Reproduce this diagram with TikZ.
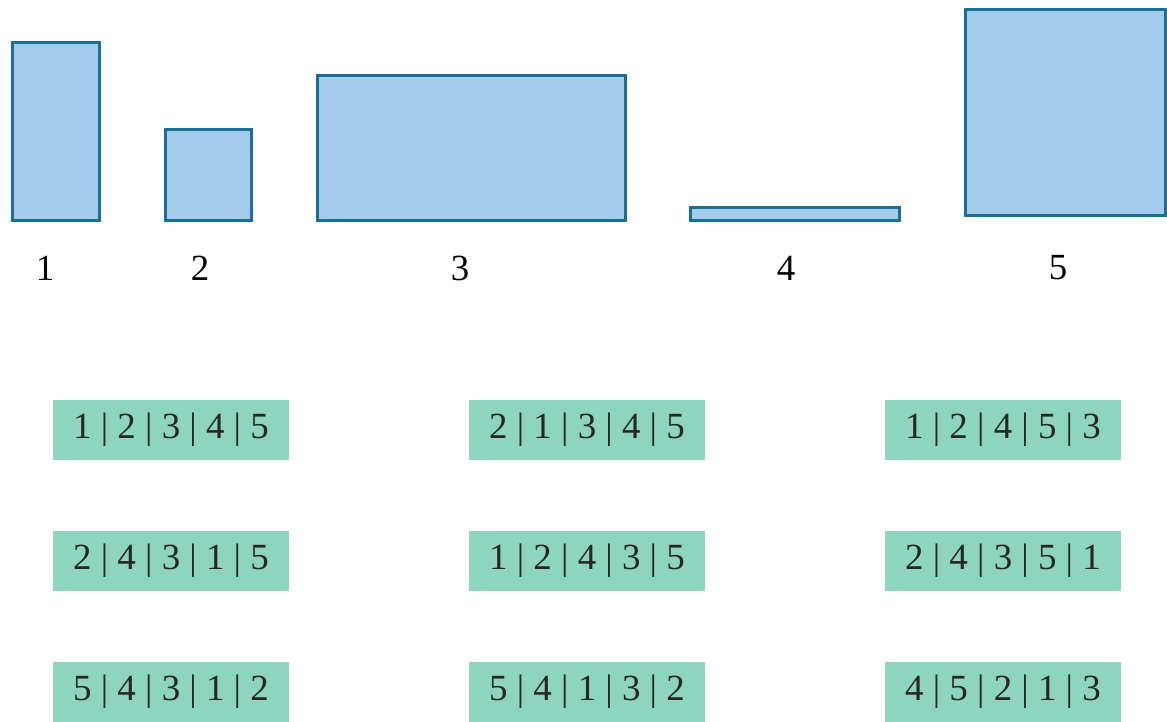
\documentclass[tikz,border=0pt]{standalone}
\usepackage{fontspec}
\setmainfont{Liberation Serif}
\usetikzlibrary{positioning}
\definecolor{barfill}{RGB}{163,204,236}
\definecolor{barline}{RGB}{28,112,150}
\definecolor{permfill}{RGB}{141,213,190}

\begin{document}
\begin{tikzpicture}[x=0.02cm, y=-0.02cm,
  barbox/.style={draw=barline, fill=barfill, line width=1.8pt,
                 anchor=south west, inner sep=0pt},
  permbox/.style={fill=permfill, minimum width=4.72cm, minimum height=1.22cm,
                  font=\fontsize{21}{24}\selectfont, text=black!85},
  barlabel/.style={font=\fontsize{21}{24}\selectfont}]
  \useasboundingbox (0,0) rectangle (1167,722);

  % Draw the five items
  \node[barbox, minimum width=1.74cm, minimum height=3.56cm] (bar1) at (11,222) {};
  \node[barbox, minimum width=1.72cm, minimum height=1.82cm] (bar2) at (164,222) {};
  \node[barbox, minimum width=6.16cm, minimum height=2.9cm]  (bar3) at (316,222) {};
  \node[barbox, minimum width=4.18cm, minimum height=0.26cm] (bar4) at (689,222) {};
  \node[barbox, minimum width=4.0cm,  minimum height=4.12cm] (bar5) at (964,217) {};

  % Item numbers
  \foreach \n/\x in {1/45, 2/200, 3/460, 4/786, 5/1058} {
    \node[barlabel] (lab\n) at (\x,268) {\n};
  }

  % Orderings
  \foreach \perm [count=\k from 0] in {
      {1 | 2 | 3 | 4 | 5}, {2 | 1 | 3 | 4 | 5}, {1 | 2 | 4 | 5 | 3},
      {2 | 4 | 3 | 1 | 5}, {1 | 2 | 4 | 3 | 5}, {2 | 4 | 3 | 5 | 1},
      {5 | 4 | 3 | 1 | 2}, {5 | 4 | 1 | 3 | 2}, {4 | 5 | 2 | 1 | 3}} {
    \pgfmathtruncatemacro{\col}{mod(\k,3)}
    \pgfmathtruncatemacro{\row}{div(\k,3)}
    \node[permbox] (perm\k) at (171+416*\col, 430+131*\row) {\perm};
  }
\end{tikzpicture}
\end{document}
